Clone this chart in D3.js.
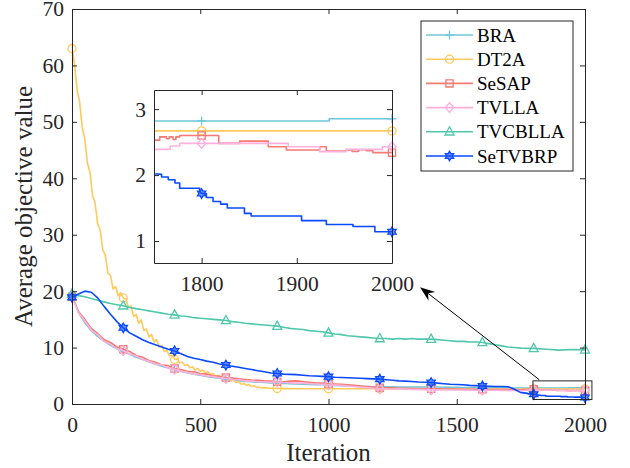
<!DOCTYPE html>
<html><head><meta charset="utf-8">
<script src="https://cdn.jsdelivr.net/npm/d3@7"></script>
<style>
body{margin:0;background:#fff}
</style>
</head><body>
<svg id="c" width="630" height="468"></svg>
<script>
// ---------------- DATA ----------------
const seriesNames = ["BRA","DT2A","SeSAP","TVLLA","TVCBLLA","SeTVBRP"];
const iters = [0,25,50,75,100,125,150,175,200,225,250,275,300,325,350,375,400,425,450,475,
  500,525,550,575,600,625,650,675,700,725,750,775,800,825,850,875,900,925,950,975,
  1000,1025,1050,1075,1100,1125,1150,1175,1200,1225,1250,1275,1300,1325,1350,1375,1400,1425,1450,1475,
  1500,1525,1550,1575,1600,1625,1650,1675,1700,1725,1750];

const braVals = [19.3,16.3,14.4,13.0,12.0,11.1,10.4,9.8,9.3,8.8,
  8.3,7.9,7.5,7.1,6.7,6.4,6.1,5.8,5.5,5.3,
  5.1,4.9,4.7,4.55,4.4,4.25,4.15,4.0,3.95,3.85,
  3.8,3.75,3.7,3.65,3.6,3.55,3.5,3.45,3.4,3.4,
  3.35,3.3,3.25,3.2,3.15,3.1,3.1,3.05,3.05,3.05,
  3.05,3.0,3.0,3.0,3.0,3.0,3.0,3.0,2.98,2.97,
  2.95,2.93,2.92,2.9,2.9,2.88,2.87,2.86,2.85,2.83,
  2.82];
const braTailIters = [1800,1934,1934,2000];
const braTailVals  = [2.82,2.82,2.853,2.853];

// DT2A has its own, finer iteration grid (jagged early descent)
const dt2aIters = [0,10,20,30,40,50,60,70,80,90,100,110,120,130,140,150,160,170,180,190,
  200,210,220,230,240,250,260,270,280,290,300,310,320,330,340,350,360,370,380,390,
  400,410,420,430,440,450,460,470,480,490,500,510,520,530,540,550,560,570,580,590,
  600,610,620,630,640,650,660,670,680,690,700,710,720,730,740,750,
  775,800,825,850,875,900,925,950,975,
  1000,1025,1050,1075,1100,1125,1150,1175,1200,1225,1250,1275,1300,1325,1350,1375,1400,1425,1450,1475,
  1500,1525,1550,1575,1600,1625,1650,1675,1700,1725,1750];
const dt2aVals = [63.0,60.2,55.6,53.4,49.0,46.9,42.7,41.1,37.0,35.6,32.0,30.8,27.3,26.4,23.2,22.8,20.4,20.8,19.2,19.7,
  18.8,18.6,17.1,17.4,15.5,15.9,14.3,14.9,13.0,13.3,11.9,12.3,11.0,11.4,10.1,10.4,9.3,9.5,8.5,8.7,
  7.9,8.0,7.3,7.4,6.8,7.0,6.4,6.6,6.0,6.3,5.8,6.0,5.5,5.7,5.2,5.4,4.9,5.1,4.65,4.85,
  4.55,4.5,4.1,4.25,3.8,3.95,3.5,3.65,3.3,3.45,3.1,3.25,2.95,3.0,2.85,2.9,
  2.8,2.75,2.73,2.72,2.71,2.7,2.7,2.7,2.7,
  2.7,2.7,2.69,2.69,2.69,2.69,2.69,2.69,2.68,2.68,2.68,2.68,2.68,2.68,2.68,2.68,2.68,2.68,2.68,2.68,
  2.67,2.67,2.67,2.67,2.67,2.67,2.67,2.67,2.67,2.67,2.67];
const dt2aTailIters = [1800,2000];
const dt2aTailVals  = [2.67,2.67];

const sesapVals = [19.0,16.4,15.0,13.4,12.5,11.4,10.9,10.1,9.7,9.3,
  8.6,8.3,7.7,7.4,6.9,6.8,6.3,6.1,5.8,5.7,
  5.4,5.3,5.0,4.9,4.7,4.6,4.45,4.35,4.25,4.2,
  4.1,4.05,3.95,3.95,4.05,4.1,4.0,3.85,3.75,3.7,
  3.6,3.55,3.5,3.4,3.3,3.2,3.1,3.0,2.9,2.85,
  2.85,2.8,2.8,2.75,2.75,2.7,2.7,2.7,2.65,2.65,
  2.65,2.6,2.6,2.6,2.6,2.58,2.58,2.55,2.55,2.53,
  2.53];
const sesapTailIters = [1756,1756,1763,1763,1766,1766,1770,1770,1773,1773,1777,1777,1800,1818,1818,1840,1840,1870,1870,1889,1889,1924,1924,1931,1931,1952,1952,1958,1958,1965,1965,1973,1973,1980,1980,2000];
const sesapTailVals  = [2.53,2.58,2.58,2.55,2.55,2.58,2.58,2.54,2.54,2.58,2.58,2.6,2.6,2.6,2.48,2.48,2.515,2.515,2.43,2.43,2.38,2.38,2.43,2.43,2.365,2.365,2.38,2.38,2.36,2.36,2.385,2.385,2.37,2.37,2.34,2.34];

const tvllaVals = [19.0,16.2,14.7,13.1,12.3,11.1,10.6,9.8,9.45,8.8,
  8.5,7.9,7.6,7.1,6.9,6.4,6.15,5.8,5.6,5.3,
  5.2,4.95,4.85,4.65,4.55,4.35,4.3,4.1,4.05,3.95,
  3.9,3.85,3.9,3.8,3.75,3.7,3.7,3.6,3.55,3.5,
  3.4,3.35,3.3,3.2,3.1,3.0,2.9,2.8,2.7,2.7,
  2.65,2.7,2.65,2.6,2.6,2.55,2.5,2.5,2.5,2.48,
  2.47,2.47,2.46,2.45,2.45,2.44,2.43,2.42,2.4,2.39,
  2.39];
const tvllaTailIters = [1767,1767,1777,1777,1800,1891,1891,1924,1924,1952,1952,1990,1990,2000];
const tvllaTailVals  = [2.39,2.44,2.44,2.48,2.48,2.48,2.43,2.43,2.355,2.355,2.39,2.39,2.43,2.43];

const tvcbllaVals = [19.5,19.2,19.0,18.7,18.4,18.1,17.8,17.6,17.4,17.1,
  16.9,16.7,16.5,16.3,16.1,15.9,15.8,15.6,15.5,15.3,
  15.2,15.1,15.0,14.9,14.8,14.6,14.5,14.3,14.2,14.1,
  14.0,13.9,13.8,13.6,13.4,13.3,13.2,13.0,12.9,12.8,
  12.6,12.4,12.3,12.1,12.0,11.9,11.8,11.7,11.6,11.6,
  11.5,11.6,11.5,11.6,11.5,11.5,11.5,11.4,11.3,11.2,
  11.1,11.1,11.0,11.0,10.9,10.7,10.5,10.3,10.1,10.0,
  9.9];
const tvcbllaTailIters = [1800,1850,1900,1950,2000];
const tvcbllaTailVals  = [9.85,9.7,9.55,9.65,9.6];

const setvbrpVals = [18.9,19.5,20.0,19.8,18.8,17.3,15.9,14.6,13.5,12.6,
  12.0,11.4,10.9,10.5,10.1,9.7,9.4,8.9,8.4,8.1,
  7.9,7.6,7.4,7.1,6.9,6.7,6.5,6.3,6.1,5.9,
  5.7,5.5,5.4,5.3,5.25,5.2,5.1,5.0,4.95,4.9,
  4.85,4.75,4.7,4.65,4.6,4.55,4.5,4.45,4.4,4.3,
  4.2,4.1,4.05,4.0,3.9,3.85,3.8,3.7,3.6,3.5,
  3.45,3.4,3.3,3.25,3.2,3.15,3.1,3.1,3.07,2.6,
  2.02];
const setvbrpTailIters = [1758,1758,1765,1765,1772,1772,1777,1777,1798,1798,1800,1805,1805,1812,1812,1820,1820,1827,1827,1845,1845,1852,1852,1905,1905,1931,1931,1959,1959,1982,1982,2000];
const setvbrpTailVals  = [2.01,1.97,1.97,1.93,1.93,1.88,1.88,1.80,1.80,1.75,1.72,1.72,1.66,1.66,1.60,1.60,1.56,1.56,1.50,1.50,1.42,1.42,1.38,1.38,1.31,1.31,1.25,1.25,1.22,1.22,1.14,1.14];

const markerIters = [0,200,400,600,800,1000,1200,1400,1600,1800,2000];
const xTicksMain = [0,500,1000,1500,2000];
const yTicksMain = [0,10,20,30,40,50,60,70];
const xTicksInset = [1800,1900,2000];
const yTicksInset = [1,2,3];
const xLabel = "Iteration";
const yLabel = "Average objective value";

// ---------------- BUILD ----------------
const FONT = '"Liberation Serif","Times New Roman",Times,serif';
const colors = ["#70c6da","#ffc95c","#f57a72","#ffb0dc","#4fc7ad","#0a4aff"];
const shapes = ["plus","circle","square","diamond","triangle","hexagram"];
const iterList = [iters,dt2aIters,iters,iters,iters,iters];
const valsList = [braVals,dt2aVals,sesapVals,tvllaVals,tvcbllaVals,setvbrpVals];
const tailX = [braTailIters,dt2aTailIters,sesapTailIters,tvllaTailIters,tvcbllaTailIters,setvbrpTailIters];
const tailY = [braTailVals,dt2aTailVals,sesapTailVals,tvllaTailVals,tvcbllaTailVals,setvbrpTailVals];

const series = seriesNames.map((name,k)=>{
  const pts = iterList[k].map((x,i)=>[x,valsList[k][i]]).concat(tailX[k].map((x,i)=>[x,tailY[k][i]]));
  const marks = markerIters.map(m=>pts.find(p=>p[0]===m)).filter(Boolean);
  return {name, pts, marks, color:colors[k], shape:shapes[k]};
});

const svg = d3.select("#c");
const AX = "#262626";

const x = d3.scaleLinear([0,2000],[72,585]);
const y = d3.scaleLinear([0,70],[404,9]);
const xi = d3.scaleLinear([1750,2000],[154,392]);
const yi = d3.scaleLinear([0.667,3.29],[263,90]);

const defs = svg.append("defs");
defs.append("clipPath").attr("id","clipMain").append("rect")
  .attr("x",72).attr("y",9).attr("width",513).attr("height",395);
defs.append("clipPath").attr("id","clipInset").append("rect")
  .attr("x",154).attr("y",90).attr("width",238).attr("height",173);

function markerPath(shape){
  const p = d3.path();
  if(shape==="plus"){ p.moveTo(-4.5,0);p.lineTo(4.5,0);p.moveTo(0,-4.5);p.lineTo(0,4.5); }
  else if(shape==="circle"){ p.moveTo(4,0);p.arc(0,0,4,0,Math.PI*2); }
  else if(shape==="square"){ p.rect(-3.6,-3.6,7.2,7.2); }
  else if(shape==="diamond"){ p.moveTo(0,-4.8);p.lineTo(4.2,0);p.lineTo(0,4.8);p.lineTo(-4.2,0);p.closePath(); }
  else if(shape==="triangle"){ p.moveTo(0,-5);p.lineTo(4.5,3.2);p.lineTo(-4.5,3.2);p.closePath(); }
  else if(shape==="hexagram"){
    const ro=4.8, ri=ro/Math.sqrt(3);
    for(let k=0;k<12;k++){
      const a=-Math.PI/2+k*Math.PI/6, r=k%2===0?ro:ri;
      const px=r*Math.cos(a), py=r*Math.sin(a);
      if(k===0)p.moveTo(px,py);else p.lineTo(px,py);
    }
    p.closePath();
  }
  return p.toString();
}

function addMarker(sel, s){
  return sel.attr("d",markerPath(s.shape))
    .attr("fill",s.shape==="hexagram"?s.color:"none")
    .attr("fill-opacity",s.shape==="hexagram"?0.6:1)
    .attr("stroke",s.color).attr("stroke-width",1.3);
}

function drawSeries(g, xs, ys, clipId, filterFn){
  series.forEach(s=>{
    const line = d3.line().x(d=>xs(d[0])).y(d=>ys(d[1]));
    g.append("path").attr("d",line(s.pts)).attr("fill","none")
      .attr("stroke",s.color).attr("stroke-width",1.6)
      .attr("stroke-linejoin","round").attr("clip-path",`url(#${clipId})`);
    g.selectAll(null).data(s.marks.filter(filterFn)).enter().append("path")
      .attr("transform",d=>`translate(${xs(d[0])},${ys(d[1])})`)
      .call(addMarker, s);
  });
}

function drawAxes(g, xs, ys, xt, yt){
  const styl = sel=>{
    sel.selectAll("path.domain").attr("stroke",AX).attr("stroke-width",1);
    sel.selectAll(".tick line").attr("stroke",AX).attr("stroke-width",1);
    sel.attr("font-family",null).attr("font-size",null);
    sel.selectAll("text").style("font-family",FONT).style("font-size","21.5px").attr("fill",AX);
  };
  g.append("g").attr("transform",`translate(0,${ys.range()[0]})`)
    .call(d3.axisBottom(xs).tickValues(xt).tickSizeInner(-5).tickSizeOuter(0).tickPadding(13).tickFormat(d3.format("d"))).call(styl);
  g.append("g").attr("transform",`translate(0,${ys.range()[1]})`)
    .call(d3.axisTop(xs).tickValues(xt).tickSizeInner(-5).tickSizeOuter(0).tickFormat("")).call(styl);
  g.append("g").attr("transform",`translate(${xs.range()[0]},0)`)
    .call(d3.axisLeft(ys).tickValues(yt).tickSizeInner(-5).tickSizeOuter(0).tickPadding(8).tickFormat(d3.format("d"))).call(styl);
  g.append("g").attr("transform",`translate(${xs.range()[1]},0)`)
    .call(d3.axisRight(ys).tickValues(yt).tickSizeInner(-5).tickSizeOuter(0).tickFormat("")).call(styl);
}

// main
const gMain = svg.append("g");
drawSeries(gMain, x, y, "clipMain", ()=>true);
drawAxes(gMain, x, y, xTicksMain, yTicksMain);

// zoom rectangle + arrow
gMain.append("rect")
  .attr("x",x(1797)).attr("y",y(4.1)).attr("width",x(2027)-x(1797)).attr("height",y(0.8)-y(4.1))
  .attr("fill","none").attr("stroke",AX).attr("stroke-width",1);
const a0=[x(1822),y(4.3)], a1=[x(1357),y(20.7)];
const ang=Math.atan2(a1[1]-a0[1],a1[0]-a0[0]);
const L=15, W=5.5, N=10;
const ux=Math.cos(ang), uy=Math.sin(ang), nx=-uy, ny=ux;
gMain.append("line").attr("x1",a0[0]).attr("y1",a0[1])
  .attr("x2",a1[0]-ux*N).attr("y2",a1[1]-uy*N).attr("stroke","#000").attr("stroke-width",1);
gMain.append("path").attr("d",`M${a1[0]},${a1[1]}L${a1[0]-ux*L+nx*W},${a1[1]-uy*L+ny*W}L${a1[0]-ux*N},${a1[1]-uy*N}L${a1[0]-ux*L-nx*W},${a1[1]-uy*L-ny*W}Z`)
  .attr("fill","#000");

// labels
svg.append("text").attr("x",(72+585)/2).attr("y",461).attr("text-anchor","middle")
  .style("font-family",FONT).style("font-size","25px").attr("fill",AX).text(xLabel);
svg.append("text").attr("transform",`translate(32,${(9+404)/2}) rotate(-90)`).attr("text-anchor","middle")
  .style("font-family",FONT).style("font-size","25px").attr("fill",AX).text(yLabel);

// inset
const gIn = svg.append("g");
gIn.append("rect").attr("x",154).attr("y",90).attr("width",238).attr("height",173).attr("fill","#fff");
const [id0,id1]=yi.domain();
drawSeries(gIn, xi, yi, "clipInset", d=>d[0]>=1750 && d[1]>=id0 && d[1]<=id1);
drawAxes(gIn, xi, yi, xTicksInset, yTicksInset);

// legend
const lg = svg.append("g");
lg.append("rect").attr("x",421).attr("y",21).attr("width",152).attr("height",150)
  .attr("fill","#fff").attr("stroke",AX).attr("stroke-width",1);
series.forEach((s,i)=>{
  const ry = 35 + i*24.2;
  lg.append("line").attr("x1",426).attr("x2",473).attr("y1",ry).attr("y2",ry)
    .attr("stroke",s.color).attr("stroke-width",1.6);
  lg.append("path").attr("transform",`translate(449.5,${ry})`).call(addMarker, s);
  lg.append("text").attr("x",477).attr("y",ry).attr("dy","0.35em")
    .style("font-family",FONT).style("font-size","19px").attr("fill","#000").text(s.name);
});
</script>
</body></html>
